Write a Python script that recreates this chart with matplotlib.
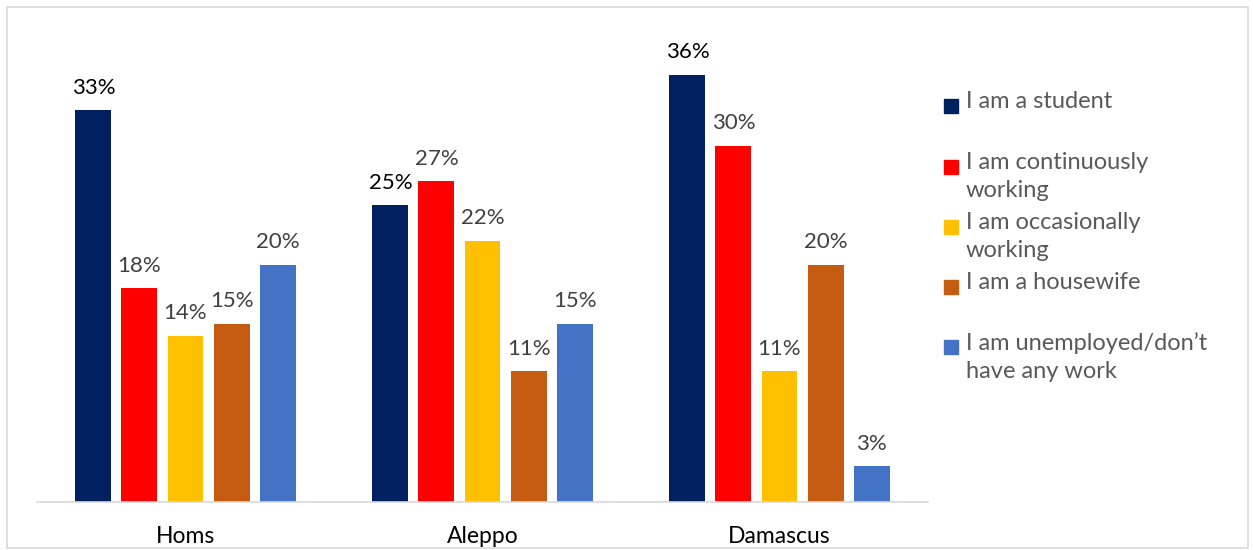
import numpy as np
import matplotlib.pyplot as plt
from matplotlib.patches import Rectangle

plt.rcParams['font.family'] = ['Lato', 'DejaVu Sans']

cities = ['Homs', 'Aleppo', 'Damascus']
series_names = ['I am a student', 'I am continuously\nworking', 'I am occasionally\nworking',
                'I am a housewife', 'I am unemployed/don\u2019t\nhave any work']
student = [33, 25, 36]
continuous = [18, 27, 30]
occasional = [14, 22, 11]
housewife = [15, 11, 20]
unemployed = [20, 15, 3]
values = [student, continuous, occasional, housewife, unemployed]
colors = ['#002060', '#FF0000', '#FFC000', '#C55A11', '#4472C4']
label_colors = ['black', '#404040', '#404040', '#404040', '#404040']

fig = plt.figure(figsize=(12.53, 5.5), dpi=100)
ax = fig.add_axes([37 / 1253, 48 / 550, 891 / 1253, 482 / 550])

x = np.arange(len(cities))
pitch = 0.155
width = 0.121
for i, vals in enumerate(values):
    pos = x + (i - 2) * pitch
    bars = ax.bar(pos, vals, width=width, color=colors[i], zorder=2)
    for b, v in zip(bars, vals):
        ax.annotate(f'{v}%', (b.get_x() + b.get_width() / 2, v), xytext=(0, 9),
                    textcoords='offset points', ha='center', va='bottom',
                    fontsize=16, color=label_colors[i])

ax.set_xlim(-0.5, 2.5)
ax.set_ylim(0, 40.6)
ax.set_xticks(x)
ax.set_xticklabels(cities, fontsize=16.5)
ax.tick_params(axis='x', length=0, pad=17)
ax.set_yticks([])
for s in ['top', 'right', 'left']:
    ax.spines[s].set_visible(False)
ax.spines['bottom'].set_color('#D9D9D9')
ax.spines['bottom'].set_linewidth(1.2)

# legend drawn by hand to keep the even spacing of the original
legend_y = [105, 166, 226, 286, 346]
for name, c, yy in zip(series_names, colors, legend_y):
    fig.patches.append(Rectangle((944 / 1253, 1 - (yy + 8) / 550), 14 / 1253, 14 / 550,
                                 transform=fig.transFigure, color=c))
    fig.text(966 / 1253, 1 - (yy - 14) / 550, name, fontsize=17, color='#595959',
             va='top', ha='left', linespacing=1.42)

# outer frame
fig.patches.append(Rectangle((7 / 1253, 2 / 550), 1241 / 1253, 541 / 550,
                             transform=fig.transFigure, fill=False,
                             edgecolor='#D9D9D9', linewidth=1.2))

fig.savefig('out.png', dpi=100)
